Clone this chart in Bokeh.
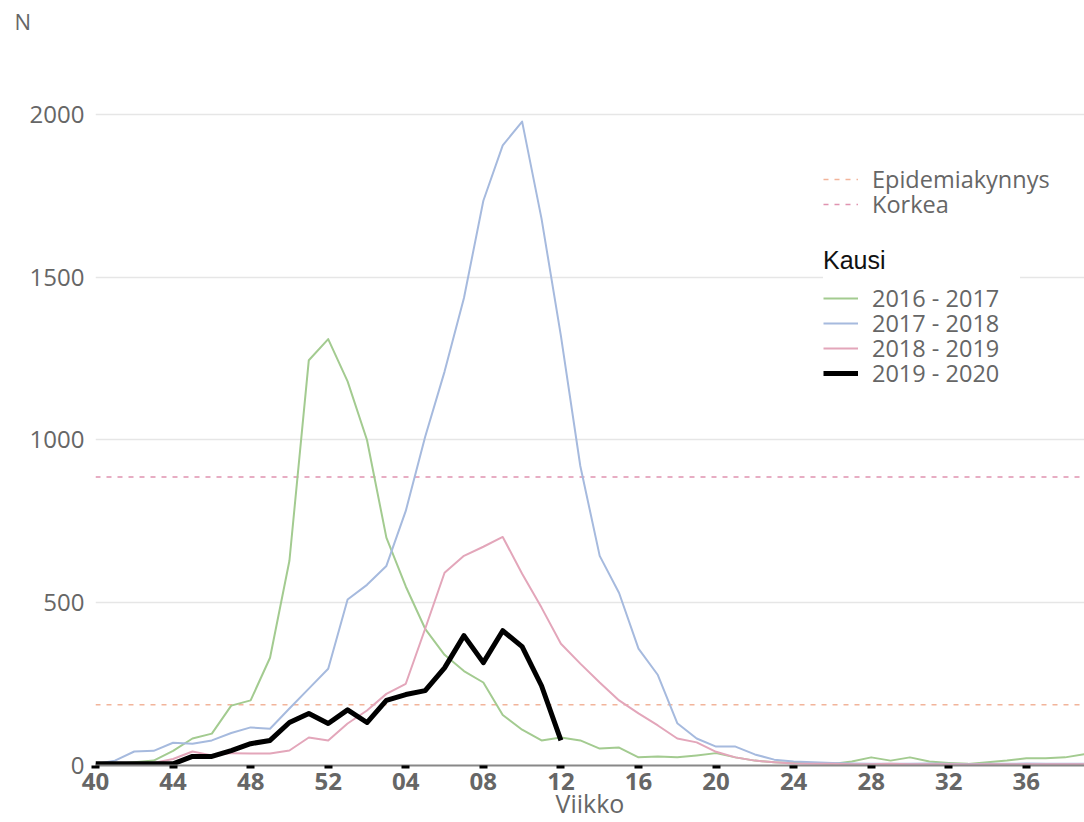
from bokeh.plotting import figure
from bokeh.models import Legend, LegendItem, FixedTicker, Range1d, Title
from bokeh.embed import file_html
from bokeh.resources import INLINE

# ---------------- data ----------------
weeks = list(range(40, 53)) + list(range(1, 40))
week_labels = [f"{w:02d}" for w in weeks]
idx = list(range(len(weeks)))

s2016_2017 = [5, 5, 10, 15, 45, 83, 98, 184, 200, 331, 629, 1245, 1310, 1180, 1000, 700,
              550, 420, 340, 290, 255, 155, 110, 77, 86, 77, 52, 55, 25, 28, 25, 31, 38, 25,
              15, 10, 8, 8, 5, 12, 25, 15, 25, 12, 8, 5, 10, 15, 22, 22, 25, 35]
s2017_2018 = [5, 15, 43, 45, 70, 67, 77, 100, 117, 113, 175, 236, 297, 510, 555, 613,
              782, 1010, 1210, 1436, 1735, 1905, 1978, 1680, 1320, 920, 644, 530, 359, 278,
              130, 83, 58, 58, 34, 18, 12, 10, 8, 6, 5, 5, 5, 6, 5, 4, 5, 5, 6, 5, 5, 5]
s2018_2019 = [3, 4, 5, 8, 20, 43, 31, 38, 37, 37, 46, 86, 77, 129, 169, 220,
              251, 420, 592, 644, 672, 702, 589, 485, 374, 313, 255, 200, 160, 123,
              83, 71, 42, 25, 15, 10, 6, 5, 5, 4, 4, 5, 4, 4, 4, 3, 4, 4, 4, 4, 4, 4]
s2019_2020 = [5, 5, 5, 5, 5, 28, 28, 46, 67, 77, 132, 160, 129, 171, 132, 200,
              218, 230, 300, 399, 316, 414, 365, 245, 77]

epidemic_threshold = 187
high_threshold = 886

threshold_names = ["Epidemiakynnys", "Korkea"]
series_names = ["2016 - 2017", "2017 - 2018", "2018 - 2019", "2019 - 2020"]
series_values = [s2016_2017, s2017_2018, s2018_2019, s2019_2020]
series_colors = ["#a3cb90", "#a6bade", "#e3a6ba", "#000000"]
series_widths = [2, 2, 2, 5]

# ---------------- figure ----------------
p = figure(width=1084, height=822, output_backend="svg", toolbar_location=None,
           x_range=Range1d(0, 51), y_range=Range1d(0, 2221),
           min_border_left=95, min_border_right=0, min_border_top=0, min_border_bottom=57)
p.outline_line_color = None
p.background_fill_color = "white"
p.border_fill_color = "white"

# "N" title at top-left
p.title = Title(text="N", align="left", offset=-81, standoff=10, vertical_align="top",
                text_font="Open Sans", text_font_size="22px",
                text_font_style="normal", text_color="#666666")

# threshold lines
thr_x = [idx[0], idx[-1]]
r_epi = p.line(thr_x, [epidemic_threshold] * 2, line_color="#f2b49a", line_width=1.5,
               line_dash="5 6")
r_high = p.line(thr_x, [high_threshold] * 2, line_color="#e093b0", line_width=1.5,
                line_dash="5 6")

renderers = []
for name, vals, col, w in zip(series_names, series_values, series_colors, series_widths):
    r = p.line(idx[:len(vals)], vals, line_color=col, line_width=w, line_join="round")
    renderers.append(r)

# axes
p.xaxis.ticker = FixedTicker(ticks=idx[::4])
p.xaxis.major_label_overrides = {i: week_labels[i] for i in idx[::4]}
p.xaxis.major_label_text_font = "Open Sans"
p.xaxis.major_label_text_font_style = "bold"
p.xaxis.major_label_text_font_size = "24px"
p.xaxis.major_label_text_color = "#666666"
p.xaxis.major_label_standoff = 4
p.xaxis.axis_line_color = "#888888"
p.xaxis.axis_line_width = 2
p.xaxis.major_tick_line_color = "#000000"
p.xaxis.major_tick_line_width = 8
p.xaxis.major_tick_out = 3
p.xaxis.major_tick_in = 0
p.xaxis.minor_tick_line_color = None
p.xaxis.axis_label = "Viikko"
p.xaxis.axis_label_text_font = "Open Sans"
p.xaxis.axis_label_text_font_size = "25px"
p.xaxis.axis_label_text_font_style = "normal"
p.xaxis.axis_label_text_color = "#666666"
p.xaxis.axis_label_standoff = -7

p.yaxis.ticker = FixedTicker(ticks=[0, 500, 1000, 1500, 2000])
p.yaxis.major_label_text_font = "Open Sans"
p.yaxis.major_label_text_font_size = "24px"
p.yaxis.major_label_text_color = "#666666"
p.yaxis.axis_line_color = None
p.yaxis.major_tick_line_color = None
p.yaxis.minor_tick_line_color = None
p.yaxis.major_label_standoff = 5

p.xgrid.grid_line_color = None
p.ygrid.grid_line_color = "#e6e6e6"
p.ygrid.grid_line_width = 1.5


# legends: one row per legend so that rows can sit 25px apart
def style(lg, opaque):
    lg.label_text_font = "Open Sans"
    lg.label_text_font_size = "23.5px"
    lg.label_text_color = "#666666"
    lg.glyph_width = 35
    lg.glyph_height = 20
    lg.label_height = 20
    lg.label_standoff = 14
    lg.spacing = 0
    lg.padding = 10
    lg.margin = 0
    lg.border_line_color = None
    lg.background_fill_color = "white"
    lg.background_fill_alpha = 1.0 if opaque else 0.0


legend_x = 728
row_y = [570, 545]                   # threshold rows
series_row_y = [451, 426, 401, 376]  # season rows

# season legend (title + first row) first, with white background
lg_title = Legend(items=[LegendItem(label=series_names[0], renderers=[renderers[0]])],
                  location=(legend_x, series_row_y[0]), title="Kausi")
style(lg_title, True)
lg_title.label_width = 148
lg_title.title_text_font = "Liberation Sans"
lg_title.title_text_font_size = "25px"
lg_title.title_text_font_style = "normal"
lg_title.title_text_color = "#111111"
lg_title.title_standoff = 7
p.add_layout(lg_title, "center")

for name, r, y in zip(series_names[1:], renderers[1:], series_row_y[1:]):
    lg = Legend(items=[LegendItem(label=name, renderers=[r])], location=(legend_x, y))
    style(lg, False)
    p.add_layout(lg, "center")

for name, r, y in zip(threshold_names, [r_epi, r_high], row_y):
    lg = Legend(items=[LegendItem(label=name, renderers=[r])], location=(legend_x, y))
    style(lg, False)
    p.add_layout(lg, "center")

open("out.html", "w").write(file_html(p, INLINE))
